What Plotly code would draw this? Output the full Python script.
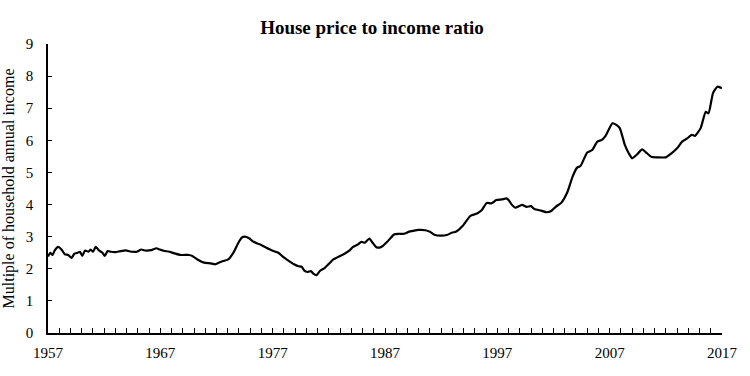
import plotly.graph_objects as go

years = [1957.0, 1957.2, 1957.4, 1957.6, 1957.9, 1958.2, 1958.5, 1958.8, 1959.1, 1959.35,
         1959.65, 1959.85, 1960.05, 1960.3, 1960.6, 1960.8, 1961.0, 1961.25, 1961.55, 1961.85,
         1962.05, 1962.3, 1962.6, 1963.0, 1963.45, 1963.9, 1964.5, 1964.9, 1965.3, 1965.6,
         1966.2, 1966.65, 1966.95, 1967.3, 1967.8, 1968.25, 1968.85, 1969.55, 1969.85, 1970.3,
         1970.9, 1971.45, 1971.9, 1972.2, 1972.6, 1973.05, 1973.5, 1973.95, 1974.25, 1974.5,
         1974.9, 1975.3, 1975.85, 1976.4, 1977.0, 1977.5, 1977.9, 1978.3, 1978.9, 1979.3,
         1979.6, 1979.8, 1980.1, 1980.4, 1980.65, 1980.9, 1981.2, 1981.65, 1982.1, 1982.4,
         1983.0, 1983.4, 1983.85, 1984.15, 1984.6, 1984.9, 1985.2, 1985.6, 1985.9, 1986.2,
         1986.5, 1986.8, 1987.2, 1987.8, 1988.2, 1988.7, 1989.1, 1989.5, 1990.0, 1990.6,
         1991.0, 1991.45, 1992.0, 1992.5, 1993.0, 1993.3, 1993.9, 1994.6, 1995.2, 1995.6,
         1996.05, 1996.5, 1996.9, 1997.4, 1997.8, 1998.0, 1998.3, 1998.6, 1999.2, 1999.6,
         2000.0, 2000.3, 2000.9, 2001.4, 2001.8, 2002.2, 2002.7, 2003.25, 2003.7, 2004.1,
         2004.4, 2005.0, 2005.45, 2005.9, 2006.3, 2006.6, 2006.9, 2007.25, 2007.6, 2007.9,
         2008.35, 2008.7, 2009.0, 2009.4, 2009.9, 2010.25, 2010.7, 2011.3, 2012.0, 2012.45,
         2013.0, 2013.45, 2013.9, 2014.3, 2014.6, 2015.1, 2015.55, 2015.8, 2016.2, 2016.6,
         2017.0]

ratio = [2.38, 2.5, 2.43, 2.57, 2.68, 2.6, 2.45, 2.43, 2.34, 2.47,
         2.5, 2.53, 2.4, 2.57, 2.53, 2.6, 2.53, 2.68, 2.57, 2.5,
         2.4, 2.55, 2.53, 2.52, 2.55, 2.57, 2.53, 2.53, 2.6, 2.57,
         2.58, 2.64, 2.6, 2.56, 2.53, 2.48, 2.43, 2.43, 2.4, 2.29,
         2.19, 2.17, 2.14, 2.19, 2.24, 2.29, 2.5, 2.81, 2.97, 3.0,
         2.95, 2.84, 2.76, 2.66, 2.56, 2.5, 2.38, 2.28, 2.14, 2.08,
         2.06, 1.95, 1.9, 1.93, 1.84, 1.8, 1.93, 2.03, 2.19, 2.29,
         2.4, 2.47, 2.57, 2.68, 2.76, 2.84, 2.81, 2.94, 2.81, 2.68,
         2.66, 2.71, 2.84, 3.07, 3.09, 3.09, 3.15, 3.18, 3.21, 3.2,
         3.15, 3.05, 3.03, 3.05, 3.13, 3.15, 3.33, 3.65, 3.72, 3.82,
         4.05, 4.04, 4.14, 4.16, 4.19, 4.14, 3.99, 3.9, 3.99, 3.93,
         3.95, 3.86, 3.81, 3.76, 3.8, 3.93, 4.06, 4.4, 4.87, 5.15,
         5.2, 5.62, 5.7, 5.96, 6.01, 6.12, 6.32, 6.53, 6.48, 6.38,
         5.86, 5.6, 5.44, 5.55, 5.72, 5.62, 5.49, 5.47, 5.47, 5.58,
         5.75, 5.96, 6.06, 6.17, 6.14, 6.38, 6.89, 6.84, 7.47, 7.67,
         7.62]

tick_years = list(range(1957, 2018))
tick_labels = [str(y) if (y - 1957) % 10 == 0 else "" for y in tick_years]
y_ticks = list(range(0, 10))

font_family = "Liberation Serif"

fig = go.Figure()
fig.add_trace(go.Scatter(
    x=years, y=ratio, mode="lines",
    line=dict(color="black", width=2.2, shape="spline", smoothing=0.5),
    hoverinfo="skip", showlegend=False,
))

fig.update_layout(
    width=750, height=376,
    margin=dict(l=48, r=16, t=44, b=43),
    paper_bgcolor="white", plot_bgcolor="white",
    font=dict(family=font_family, color="black", size=15),
    title=dict(text="<b>House price to income ratio</b>", x=0.496, xanchor="center",
               y=0.928, yanchor="middle", font=dict(family=font_family, size=19, color="black")),
)

fig.update_xaxes(
    range=[1957, 2017], tickmode="array", tickvals=tick_years, ticktext=tick_labels,
    ticks="inside", ticklen=5, tickwidth=1.2, tickcolor="black",
    showline=True, linecolor="black", linewidth=1.5, showgrid=False, zeroline=False,
    tickfont=dict(family=font_family, size=15, color="black"),
    ticklabelstandoff=5,
)
fig.update_yaxes(
    range=[0, 9], tickmode="array", tickvals=y_ticks,
    ticks="inside", ticklen=4, tickwidth=1.2, tickcolor="black",
    showline=True, linecolor="black", linewidth=1.5, showgrid=False, zeroline=False,
    tickfont=dict(family=font_family, size=15, color="black"),
    ticklabelstandoff=10,
    title=dict(text="Multiple of household annual income",
               font=dict(family=font_family, size=16, color="black"), standoff=7),
    automargin=False,
)

fig.write_html("out.html", config={"displayModeBar": False},
               post_script="document.body.style.margin='0';")
